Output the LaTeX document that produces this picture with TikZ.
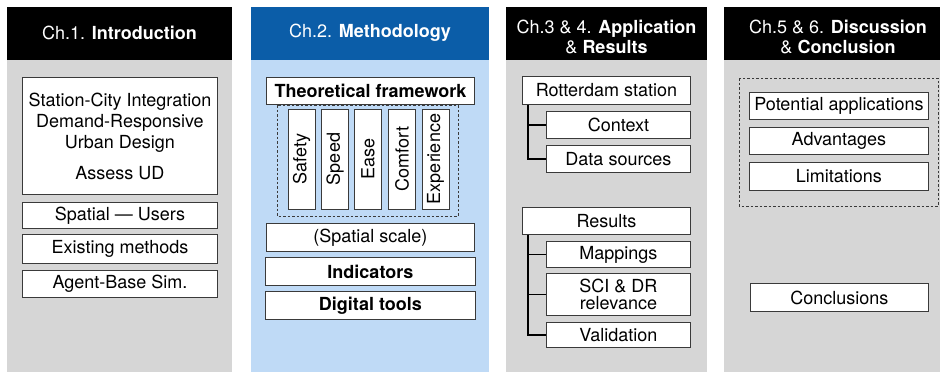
\documentclass[tikz,border=0pt]{standalone}
\usepackage{fontspec}
\setmainfont{TeX Gyre Heros}
\newcommand\dgfont{\fontsize{18}{21}\selectfont}
\definecolor{panelgray}{HTML}{D6D6D6}
\definecolor{hdrblue}{HTML}{0B5DA8}
\definecolor{panelblue}{HTML}{BFDAF6}
\definecolor{edgegray}{HTML}{3A3A3A}
\begin{document}
\begin{tikzpicture}[x=1pt,y=-1pt,
  box/.style={draw=edgegray, fill=white, line width=0.9pt, inner sep=0pt, anchor=north west, font=\dgfont, align=center},
  vbox/.style={box, rotate=90, anchor=center, minimum width=100pt, minimum height=27pt},
  hdr/.style={text=white, font=\dgfont, align=center, inner sep=0pt},
  dashbox/.style={draw=edgegray, line width=0.9pt, dash pattern=on 2.5pt off 2pt},
  tree/.style={draw=black, line width=1.1pt}]
\useasboundingbox (0,0) rectangle (940,372);
% panels
\fill[panelgray] (7,7) rectangle (232,372);
\fill[black] (7,7) rectangle (232,60);
\fill[panelblue] (251,7) rectangle (489,372);
\fill[hdrblue] (251,7) rectangle (489,60);
\fill[panelgray] (506,7) rectangle (707,372);
\fill[black] (506,7) rectangle (707,60);
\fill[panelgray] (724,7) rectangle (940,372);
\fill[black] (724,7) rectangle (940,60);
% headers
\node[hdr] (h1) at (119.5,33) {Ch.1. \textbf{Introduction}};
\node[hdr] (h2) at (370,33) {Ch.2. \textbf{Methodology}};
\node[hdr, font=\fontsize{18}{20}\selectfont] (h3) at (606.5,37) {Ch.3 \& 4. \textbf{Application}\\\& \textbf{Results}};
\node[hdr, font=\fontsize{18}{20}\selectfont] (h4) at (838,37) {Ch.5 \& 6. \textbf{Discussion}\\\& \textbf{Conclusion}};
% column 1
\node[box, minimum width=195pt, minimum height=117pt] (intro) at (22,77)
  {Station-City Integration\\Demand-Responsive\\Urban Design\\[10pt]Assess UD};
\node[box, minimum width=195pt, minimum height=26pt] (spatial) at (22,202) {Spatial — Users};
\node[box, minimum width=195pt, minimum height=29pt] (existing) at (22,234) {Existing methods};
\node[box, minimum width=195pt, minimum height=27pt] (agent) at (22,270) {Agent-Base Sim.};
% column 2
\node[box, minimum width=208pt, minimum height=27pt, font=\dgfont\bfseries] (theo) at (266,77) {Theoretical framework};
\draw[dashbox] (277,105) rectangle (458,216);
\node[vbox] (safety) at (301.5,159) {Safety};
\node[vbox] (speed) at (335,159) {Speed};
\node[vbox] (ease) at (368,159) {Ease};
\node[vbox] (comfort) at (402,159) {Comfort};
\node[vbox] (experience) at (435.5,159) {Experience};
\node[box, minimum width=208pt, minimum height=28pt] (scale) at (266,223) {(Spatial scale)};
\node[box, minimum width=210pt, minimum height=28pt, font=\dgfont\bfseries] (indicators) at (265,257) {Indicators};
\node[box, minimum width=210pt, minimum height=28pt, font=\dgfont\bfseries] (digital) at (265,291) {Digital tools};
% column 3
\node[box, minimum width=168pt, minimum height=28pt] (rot) at (522,76) {Rotterdam station};
\node[box, minimum width=144pt, minimum height=27pt] (context) at (546,111) {Context};
\node[box, minimum width=144pt, minimum height=27pt] (data) at (546,145) {Data sources};
\node[box, minimum width=168pt, minimum height=27pt] (results) at (522,207) {Results};
\node[box, minimum width=144pt, minimum height=26pt] (mappings) at (546,241) {Mappings};
\node[box, minimum width=144pt, minimum height=42pt, font=\fontsize{18}{16.5}\selectfont] (sci) at (546,273) {SCI \& DR\\relevance};
\node[box, minimum width=144pt, minimum height=25pt] (validation) at (546,322) {Validation};
\draw[tree] ([xshift=6pt]rot.south west) |- (context.west);
\draw[tree] ([xshift=6pt]rot.south west) |- (data.west);
\draw[tree] ([xshift=6pt]results.south west) |- (mappings.west);
\draw[tree] ([xshift=6pt]results.south west) |- (sci.west);
\draw[tree] ([xshift=6pt]results.south west) |- (validation.west);
% column 4
\draw[dashbox] (739,78) rectangle (938,206);
\node[box, minimum width=179pt, minimum height=27pt] (potential) at (749,92) {Potential applications};
\node[box, minimum width=179pt, minimum height=27pt] (advantages) at (749,127) {Advantages};
\node[box, minimum width=179pt, minimum height=28pt] (limitations) at (749,162) {Limitations};
\node[box, minimum width=178pt, minimum height=28pt] (conclusions) at (750,283) {Conclusions};
\end{tikzpicture}
\end{document}
